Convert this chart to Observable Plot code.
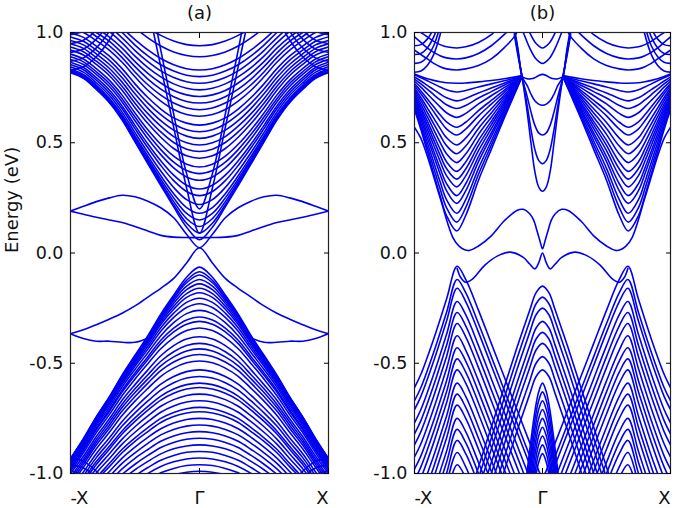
<!DOCTYPE html>
<html><head><meta charset="utf-8">
<script src="https://cdn.jsdelivr.net/npm/d3@7"></script>
<script src="https://cdn.jsdelivr.net/npm/@observablehq/plot@0.6"></script>
<style>
body{margin:0;background:#fff;}
#wrap{display:flex;width:675px;height:508px;}
</style></head>
<body><div id="wrap"></div>
<script>
// ---------- shared ticks / labels ----------
const yTicks = [-1, -0.5, 0, 0.5, 1];
const kTicks = [-1, 0, 1];
const kLabels = ["-X", "Γ", "X"];
const titles = ["(a)", "(b)"];
const yLabel = "Energy (eV)";

// ---------- panel (a): k grid (half zone, mirrored about Γ) ----------
const aK = [0, 0.1, 0.2, 0.3, 0.4, 0.5, 0.6, 0.7, 0.8, 0.9, 1.0];
const aCond = [
 [.06,.117,.209,.306,.404,.504,.603,.683,.742,.792,.817],
 [.09,.135,.219,.313,.41,.508,.607,.686,.745,.795,.82],
 [.12,.156,.233,.323,.418,.514,.612,.69,.75,.799,.824],
 [.15,.18,.25,.335,.427,.522,.618,.696,.755,.804,.829],
 [.18,.206,.269,.35,.439,.531,.626,.703,.762,.81,.835],
 [.22,.242,.297,.372,.456,.546,.639,.715,.772,.82,.845],
 [.26,.279,.328,.397,.477,.564,.654,.728,.784,.831,.855],
 [.29,.307,.353,.418,.494,.579,.667,.74,.795,.841,.865],
 [.33,.345,.386,.446,.518,.60,.685,.756,.81,.855,.878],
 [.36,.374,.412,.469,.538,.617,.70,.77,.822,.867,.89],
 [.39,.403,.439,.493,.559,.635,.716,.784,.836,.88,.902],
 [.43,.441,.474,.525,.587,.659,.738,.805,.855,.898,.92],
 [.46,.471,.501,.549,.609,.679,.756,.821,.87,.913,.934],
 [.49,.50,.528,.575,.632,.70,.775,.838,.886,.928,.949],
 [.52,.53,.557,.60,.656,.722,.795,.856,.903,.944,.964],
 [.55,.559,.585,.627,.68,.744,.815,.875,.92,.96,.98],
 [.58,.589,.613,.653,.705,.767,.836,.894,.938,.978,.998],
 [.62,.628,.651,.689,.738,.799,.865,.92,.963,1.0,1.02],
 [.65,.658,.68,.716,.763,.821,.886,.94,.982,1.02,1.04],
 [.68,.687,.709,.743,.789,.845,.907,.961,1.0,1.04,1.06],
 [.71,.717,.737,.771,.815,.868,.929,.98,1.02,1.06,1.07],
 [.74,.747,.767,.799,.841,.893,.953,1.005,1.047,1.083,1.101],
 [.77,.777,.796,.826,.868,.918,.976,1.027,1.068,1.103,1.121],
 [.80,.806,.825,.854,.894,.943,1.0,1.05,1.09,1.124,1.142],
 [.83,.836,.854,.882,.921,.968,1.02,1.069,1.108,1.142,1.16],
 [.89,.896,.912,.939,.976,1.021,1.073,1.12,1.16,1.19,1.21],
 [.94,.945,.961,.987,1.02,1.065,1.12,1.16,1.2,1.23,1.25]
];
const aSteep = [
 [.09,.295,.57,.845,1.12,null,null,null,null,null,null],
 [.2,.36,.63,.92,1.22,null,null,null,null,null,null]
];
const aCondX = [
 [null,null,null,null,null,1.2,1.07,.965,.89,.845,.83],
 [null,null,null,null,null,null,1.11,1.005,.93,.885,.87],
 [null,null,null,null,null,null,1.15,1.045,.97,.925,.91],
 [null,null,null,null,null,null,null,1.085,1.01,.965,.95],
 [null,null,null,null,null,null,null,1.13,1.05,1.005,.99]
];
const aSurf = [
 [.07,.07,.072,.08,.10,.12,.138,.15,.162,.176,.19],
 [.024,.085,.16,.205,.235,.255,.262,.25,.233,.212,.19],
 [.024,-.045,-.115,-.16,-.2,-.24,-.273,-.30,-.325,-.348,-.366],
 [null,null,null,null,-.385,-.405,-.405,-.40,-.40,-.388,-.366]
];
const aVal = [
 [-.064,-.11,-.191,-.277,-.375,-.464,-.554,-.653,-.743,-.842,-.932],
 [-.085,-.124,-.199,-.283,-.38,-.468,-.557,-.656,-.745,-.844,-.934],
 [-.10,-.135,-.206,-.288,-.383,-.471,-.559,-.658,-.747,-.846,-.935],
 [-.12,-.15,-.216,-.295,-.389,-.475,-.563,-.661,-.75,-.849,-.938],
 [-.14,-.166,-.228,-.304,-.396,-.481,-.568,-.665,-.753,-.852,-.94],
 [-.16,-.184,-.241,-.314,-.403,-.487,-.573,-.669,-.757,-.855,-.944],
 [-.18,-.201,-.255,-.324,-.411,-.494,-.579,-.674,-.762,-.859,-.947],
 [-.205,-.224,-.273,-.339,-.423,-.504,-.587,-.682,-.768,-.865,-.952],
 [-.23,-.247,-.292,-.355,-.436,-.514,-.596,-.689,-.775,-.871,-.958],
 [-.26,-.275,-.316,-.375,-.452,-.528,-.608,-.70,-.784,-.879,-.966],
 [-.29,-.304,-.341,-.396,-.47,-.544,-.622,-.712,-.795,-.889,-.974],
 [-.31,-.323,-.358,-.411,-.483,-.555,-.631,-.72,-.802,-.895,-.98],
 [-.34,-.352,-.385,-.434,-.502,-.572,-.647,-.734,-.814,-.906,-.99],
 [-.38,-.39,-.42,-.466,-.53,-.597,-.668,-.753,-.832,-.922,-1.0],
 [-.41,-.42,-.448,-.491,-.552,-.616,-.686,-.768,-.846,-.935,-1.016],
 [-.435,-.444,-.471,-.512,-.571,-.633,-.701,-.782,-.858,-.946,-1.027],
 [-.46,-.469,-.494,-.533,-.59,-.651,-.717,-.796,-.871,-.958,-1.04],
 [-.49,-.498,-.522,-.559,-.614,-.672,-.737,-.814,-.888,-.972,-1.051],
 [-.53,-.538,-.56,-.595,-.646,-.702,-.764,-.839,-.91,-.993,-1.07],
 [-.56,-.567,-.588,-.622,-.671,-.725,-.785,-.858,-.928,-1.01,-1.08],
 [-.59,-.597,-.617,-.649,-.696,-.748,-.807,-.878,-.946,-1.027,-1.1],
 [-.61,-.617,-.636,-.667,-.713,-.764,-.821,-.891,-.959,-1.04,-1.11],
 [-.64,-.646,-.665,-.695,-.739,-.788,-.844,-.912,-.978,-1.056,-1.13],
 [-.67,-.676,-.694,-.722,-.765,-.813,-.867,-.933,-.998,-1.07,-1.14],
 [-.70,-.706,-.723,-.75,-.792,-.838,-.89,-.955,-1.019,-1.09,-1.16],
 [-.72,-.726,-.742,-.769,-.81,-.854,-.906,-.97,-1.03,-1.1,-1.17],
 [-.75,-.755,-.771,-.797,-.836,-.88,-.93,-.992,-1.05,-1.12,-1.19],
 [-.78,-.785,-.80,-.825,-.863,-.906,-.954,-1.015,-1.08,-1.14,-1.21],
 [-.81,-.815,-.83,-.854,-.891,-.931,-.979,-1.039,-1.1,-1.16,-1.23],
 [-.84,-.845,-.859,-.882,-.918,-.958,-1.004,-1.06,-1.12,-1.18,-1.24],
 [-.87,-.875,-.888,-.911,-.945,-.983,-1.028,-1.08,-1.14,-1.2,-1.26],
 [-.90,-.904,-.918,-.94,-.973,-1.011,-1.06,-1.11,-1.16,-1.22,-1.28],
 [-.93,-.934,-.947,-.968,-1.0,-1.04,-1.09,-1.14,-1.19,-1.25,-1.3],
 [-.96,-.964,-.977,-.997,-1.029,-1.07,-1.12,-1.17,-1.22,-1.27,-1.32],
 [-.99,-.994,-1.006,-1.025,-1.06,-1.1,-1.15,-1.2,-1.25,-1.3,-1.35]
];
const aValX = [
 [null,null,null,null,null,null,-1.17,-1.065,-.99,-.945,-.93],
 [null,null,null,null,null,null,null,-1.095,-1.02,-.975,-.96],
 [null,null,null,null,null,null,null,-1.13,-1.05,-1.005,-.99]
];

// ---------- panel (b) ----------
const bValleyK = [.16,.2,.3,.4,.5,.6,.67,.75,.8,.85,.9,.95,1.0];
const bValley = [
 [.80,.745,.61,.47,.33,.17,.10,.17,.26,.36,.46,.56,.65],
 [.80,.748,.621,.489,.357,.206,.14,.206,.291,.386,.48,.575,.66],
 [.80,.751,.632,.508,.384,.242,.18,.242,.323,.412,.501,.59,.67],
 [.80,.755,.644,.529,.414,.282,.225,.283,.358,.441,.523,.606,.681],
 [.80,.757,.653,.545,.437,.314,.26,.315,.385,.463,.542,.62,.69],
 [.80,.761,.664,.564,.464,.35,.30,.351,.416,.489,.562,.634,.70],
 [.80,.763,.674,.581,.488,.381,.335,.383,.444,.512,.58,.648,.709],
 [.80,.766,.683,.597,.511,.413,.37,.414,.471,.534,.598,.661,.718],
 [.80,.769,.694,.616,.538,.449,.41,.45,.502,.56,.618,.675,.728],
 [.80,.773,.705,.635,.565,.485,.45,.487,.534,.586,.638,.691,.738],
 [.80,.776,.716,.654,.592,.521,.49,.523,.565,.612,.658,.705,.748],
 [.80,.779,.728,.675,.622,.562,.535,.563,.60,.641,.682,.722,.759],
 [.80,.782,.738,.692,.646,.593,.57,.595,.627,.663,.699,.735,.768],
 [.80,.785,.75,.713,.676,.633,.615,.636,.663,.692,.722,.752,.779],
 [.80,.789,.761,.732,.703,.669,.655,.672,.694,.718,.743,.767,.789],
 [.80,.791,.77,.748,.726,.701,.69,.704,.721,.741,.76,.78,.798],
 [.80,.795,.781,.767,.753,.737,.73,.74,.753,.767,.781,.795,.808],
 [.805,.80,.79,.782,.776,.771,.77,.772,.777,.783,.79,.80,.812],
 [1.1,1.0,.93,.88,.85,.835,.83,.835,.845,.86,.88,.90,.92],
 [null,1.05,.99,.94,.905,.885,.88,.885,.895,.91,.93,.955,.98],
 [null,null,1.05,.99,.955,.935,.93,.935,.945,.96,.98,1.0,1.02]
];
const bMeshK = [.75,.8,.85,.9,.95,1.0];
const bMesh = [
 [1.12,.99,.90,.85,.825,.82],
 [1.16,1.03,.94,.89,.865,.86],
 [null,1.07,.98,.93,.905,.90],
 [null,1.11,1.02,.97,.945,.94]
];
const bCenterK = [0,.03,.06,.09,.12,.16,.19,.22];
const bCenter = [
 [.28,.30,.37,.50,.64,.80,.89,.99],
 [.405,.42,.47,.56,.67,.80,.90,1.0],
 [.535,.545,.58,.64,.71,.80,.91,1.01],
 [.67,.675,.69,.72,.76,.80,.92,1.02],
 [.81,.805,.795,.79,.79,.80,null,null]
];
const bTopK = [0,.05,.1,.15,.2];
const bTop = [
 [.86,.88,.93,1.0,1.07],
 [.93,.95,1.0,1.07,null]
];
const bS1K = [0,.02,.04,.07,.1,.15,.2,.3,.4,.5,.58,.65,.7,.8,.9,.95,1.0];
const bS1 = [.019,.055,.095,.15,.178,.198,.193,.145,.078,.032,.011,.03,.07,.25,.44,.52,.57];
const bS2K = [0,.03,.06,.1,.15,.25,.35,.45,.55,.6,.64,.667];
const bS2 = [0,-.045,-.072,-.05,-.02,.004,-.013,-.055,-.12,-.133,-.11,-.07];
const bHillK = [0,.1,.2,.3,.4,.5,.6,.667,.75,.85,.95,1.0];
const bHill = [
 [-1.01,-.86,-.71,-.56,-.41,-.26,-.12,-.06,-.21,-.39,-.55,-.61],
 [-1.07,-.92,-.77,-.62,-.47,-.32,-.18,-.12,-.27,-.45,-.61,-.67],
 [-1.11,-.96,-.81,-.66,-.51,-.36,-.22,-.16,-.31,-.49,-.65,-.71],
 [-1.17,-1.02,-.87,-.72,-.57,-.42,-.28,-.22,-.37,-.55,-.71,-.77],
 [null,-1.07,-.92,-.77,-.62,-.47,-.33,-.27,-.42,-.60,-.76,-.82],
 [null,-1.12,-.97,-.82,-.67,-.52,-.38,-.32,-.47,-.65,-.81,-.87],
 [null,null,-1.03,-.88,-.73,-.58,-.44,-.375,-.525,-.705,-.865,-.925],
 [null,null,-1.08,-.93,-.78,-.63,-.49,-.43,-.58,-.76,-.92,-.98],
 [null,null,-1.13,-.98,-.83,-.68,-.54,-.48,-.63,-.81,-.97,-1.03],
 [null,null,null,-1.03,-.88,-.73,-.59,-.53,-.68,-.86,-1.02,-1.08],
 [null,null,null,-1.09,-.94,-.79,-.65,-.59,-.74,-.92,-1.08,null],
 [null,null,null,-1.14,-.99,-.84,-.70,-.64,-.79,-.97,-1.13,null],
 [null,null,null,null,-1.04,-.89,-.75,-.69,-.84,-1.02,null,null],
 [null,null,null,null,-1.10,-.95,-.81,-.75,-.90,-1.08,null,null],
 [null,null,null,null,-1.15,-1.0,-.86,-.80,-.95,-1.13,null,null],
 [null,null,null,null,null,-1.05,-.91,-.85,-1.0,-1.18,null,null],
 [null,null,null,null,null,-1.11,-.97,-.905,-1.055,null,null,null],
 [null,null,null,null,null,-1.16,-1.02,-.96,-1.11,null,null,null]
];
const bCHillK = [0,.05,.1,.2,.3,.4,.5,.6];
const bCHill = [
 [-.15,-.18,-.26,-.43,-.61,-.79,-.97,-1.15],
 [-.20,-.23,-.31,-.48,-.66,-.84,-1.02,-1.2],
 [-.25,-.28,-.36,-.53,-.71,-.89,-1.07,null],
 [-.31,-.34,-.42,-.59,-.77,-.95,-1.13,null],
 [-.36,-.39,-.47,-.64,-.82,-1.0,-1.18,null],
 [-.41,-.44,-.52,-.69,-.87,-1.05,null,null],
 [-.47,-.50,-.58,-.75,-.93,-1.11,null,null],
 [-.53,-.56,-.64,-.81,-.99,-1.17,null,null]
];
const bInnerK = [0,.03,.06,.09,.12,.15];
const bInner = [
 [-.59,-.63,-.72,-.85,-.99,-1.13],
 [-.63,-.67,-.76,-.89,-1.03,null],
 [-.67,-.71,-.80,-.93,-1.07,null],
 [-.71,-.75,-.84,-.97,-1.11,null],
 [-.75,-.79,-.88,-1.01,null,null],
 [-.79,-.83,-.92,-1.05,null,null],
 [-.83,-.87,-.96,-1.09,null,null],
 [-.87,-.91,-1.0,-1.13,null,null],
 [-.91,-.95,-1.04,null,null,null]
];

// ---------- build mirrored band tables ----------
function addBands(out, tag, K, rows) {
  rows.forEach((row, j) => {
    const id = tag + j;
    for (let i = K.length - 1; i >= 0; i--) out.push({id, k: -K[i], e: row[i]});
    if (K[0] > 0) out.push({id, k: 0, e: null});
    for (let i = (K[0] === 0 ? 1 : 0); i < K.length; i++) out.push({id, k: K[i], e: row[i]});
  });
}
const bandsA = [];
addBands(bandsA, "c", aK, aCond);
addBands(bandsA, "s", aK, aSteep);
addBands(bandsA, "x", aK, aCondX);
addBands(bandsA, "v", aK, aVal);
addBands(bandsA, "w", aK, aValX);
addBands(bandsA, "ss", aK, aSurf);

const bandsB = [];
addBands(bandsB, "va", bValleyK, bValley);
addBands(bandsB, "me", bMeshK, bMesh);
addBands(bandsB, "ce", bCenterK, bCenter);
addBands(bandsB, "to", bTopK, bTop);
addBands(bandsB, "s1", bS1K, [bS1]);
addBands(bandsB, "s2", bS2K, [bS2]);
addBands(bandsB, "hi", bHillK, bHill);
addBands(bandsB, "ch", bCHillK, bCHill);
addBands(bandsB, "in", bInnerK, bInner);

const FONT = "DejaVu Sans, Liberation Sans, sans-serif";
const BLUE = "#0000f0";

function panel(bands, title, withLabel, width, mL, mR) {
  const marks = [
    Plot.line(bands, {x: "k", y: "e", z: "id", curve: "catmull-rom",
      stroke: BLUE, strokeWidth: 1.6, clip: true}),
    Plot.frame({stroke: "#222", strokeWidth: 1.2}),
    Plot.axisY(yTicks, {anchor: "left", tickSize: 0, tickPadding: 7,
      tickFormat: d => d.toFixed(1), label: null, fontSize: 17.5, fill: "#111"}),
    Plot.axisY(yTicks, {anchor: "left", tickSize: -5, tickFormat: () => "", label: null}),
    Plot.axisY(yTicks, {anchor: "right", tickSize: -5, tickFormat: () => "", label: null}),
    Plot.axisX(kTicks, {anchor: "bottom", tickSize: -5, tickFormat: () => "", label: null}),
    Plot.axisX(kTicks, {anchor: "top", tickSize: -5, tickFormat: () => "", label: null}),
    Plot.text([0], {x: kTicks[0], text: () => kLabels[0], frameAnchor: "bottom", dy: 25,
      lineAnchor: "middle", textAnchor: "start", fontSize: 18, fill: "#111"}),
    Plot.text([0], {x: kTicks[1], text: () => kLabels[1], frameAnchor: "bottom", dy: 25,
      lineAnchor: "middle", textAnchor: "middle", fontSize: 18, fill: "#111"}),
    Plot.text([0], {x: kTicks[2], text: () => kLabels[2], frameAnchor: "bottom", dy: 25,
      lineAnchor: "middle", textAnchor: "end", fontSize: 18, fill: "#111"}),
    Plot.text([title], {text: d => d, frameAnchor: "top", dy: -19, lineAnchor: "middle",
      fontSize: 18, fill: "#111"})
  ];
  if (withLabel) marks.push(Plot.text([yLabel], {text: d => d, frameAnchor: "left", dx: -58,
      rotate: -90, fontSize: 18, fill: "#111"}));
  return Plot.plot({
    width, height: 508, marginLeft: mL, marginRight: mR, marginTop: 32, marginBottom: 35,
    x: {domain: [-1, 1]}, y: {domain: [-1, 1]},
    style: {fontFamily: FONT, background: "white", overflow: "visible"},
    marks
  });
}
const wrap = document.getElementById("wrap");
wrap.appendChild(panel(bandsA, titles[0], true, 340, 70, 12));
wrap.appendChild(panel(bandsB, titles[1], false, 335, 74, 5));
</script></body></html>
